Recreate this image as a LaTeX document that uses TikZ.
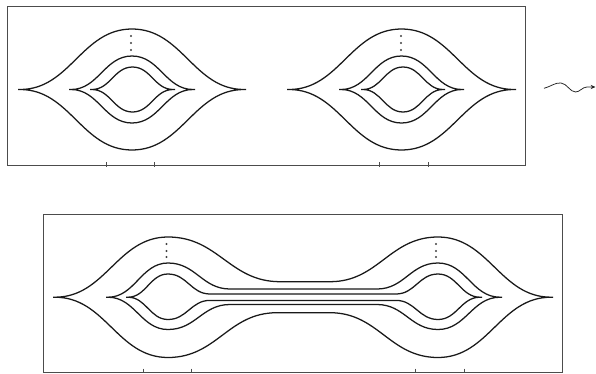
\documentclass[tikz,border=0pt]{standalone}
\usetikzlibrary{arrows.meta,calc}
\begin{document}
\begin{tikzpicture}[x=0.05cm,y=-0.05cm,
  curve/.style={line width=1.8pt,black!90,line join=round},
  frame/.style={line width=1.1pt,black!70},
  tick/.style={line width=0.9pt,black!70},
  dotm/.style={fill=black!75,draw=none},
  sig/.style={to path={let \p1=(\tikztostart), \p2=(\tikztotarget) in
     .. controls ({\x1+0.45*(\x2-\x1)},\y1) and ({\x2-0.45*(\x2-\x1)},\y2) .. (\tikztotarget)}},
  wave/.style={line width=1.1pt,black!85,-{Stealth[length=7pt,width=6pt]}}]
\useasboundingbox (0,0) rectangle (596,373);
% ---------- frames ----------
\draw[frame] (7,6) rectangle (525,165);
\draw[frame] (43,214) rectangle (562,372);
\foreach \t in {106,154,379,428}{\draw[tick] (\t,162.3) -- (\t,167.3);}
\foreach \t in {143,191,415,464}{\draw[tick] (\t,368.5) -- (\t,373);}
% ---------- eye macro ----------
\newcommand\eyeloop[4]{% cx, cy, hw, amp
  \draw[curve] ({#1-#3-2},#2) -- ({#1-#3},#2) to[sig] ({#1},{#2-#4}) to[sig] ({#1+#3},#2) -- ({#1+#3+2},#2)
     ({#1+#3},#2) to[sig] ({#1},{#2+#4}) to[sig] ({#1-#3},#2);}
% first eye
\eyeloop{132}{89.5}{112}{60.5}
\eyeloop{132}{89.5}{61}{33.5}
\eyeloop{132.5}{89.5}{40.5}{22.5}
% second eye
\eyeloop{401.5}{89.5}{112.5}{60.5}
\eyeloop{401.5}{89.5}{60.5}{33.5}
\eyeloop{403}{89.5}{40}{22.5}
% dots
\foreach \yy in {36,43,50}{
  \fill[dotm] (131,\yy) circle[radius=1.6pt];
  \fill[dotm] (401,\yy) circle[radius=1.6pt];}
% ---------- wavy arrow ----------
\coordinate (ws) at (544,88.3);
\coordinate (we) at (595.5,87);
\draw[wave] (ws) .. controls (552,86) and (555,82.5) .. (561,83)
   .. controls (567,83.5) and (570,92) .. (575.5,92)
   .. controls (580,92) and (582,87.2) .. (587,87) -- (we);
% ---------- bottom figure ----------
% outer
\draw[curve] (53,297.2) -- (55,297.2) to[sig] (168,237) to[sig] (280,281.7) -- (330,281.7)
   to[sig] (438,237) to[sig] (551,297.2) -- (553,297.2)
   (551,297.2) to[sig] (438,357.5) to[sig] (330,312.7) -- (277,312.7)
   to[sig] (168,357.5) to[sig] (55,297.2);
% middle
\draw[curve] (106,297.2) -- (108,297.2) to[sig] (168,263) to[sig] (230,289) -- (377,289)
   to[sig] (438,263) to[sig] (500,297.2) -- (502,297.2)
   (500,297.2) to[sig] (438,329.5) to[sig] (377,304.5) -- (230,304.5)
   to[sig] (168,329.5) to[sig] (108,297.2);
% inner
\draw[curve] (126,297.2) -- (128,297.2) to[sig] (168,274) to[sig] (210,294) -- (396,294)
   to[sig] (438,274) to[sig] (480,297.2) -- (482,297.2)
   (480,297.2) to[sig] (438,319.5) to[sig] (396,300.4) -- (210,300.4)
   to[sig] (168,319.5) to[sig] (128,297.2);
% dots
\foreach \yy in {244,251,257}{
  \fill[dotm] (166.5,\yy) circle[radius=1.6pt];
  \fill[dotm] (436,\yy) circle[radius=1.6pt];}
\end{tikzpicture}
\end{document}
